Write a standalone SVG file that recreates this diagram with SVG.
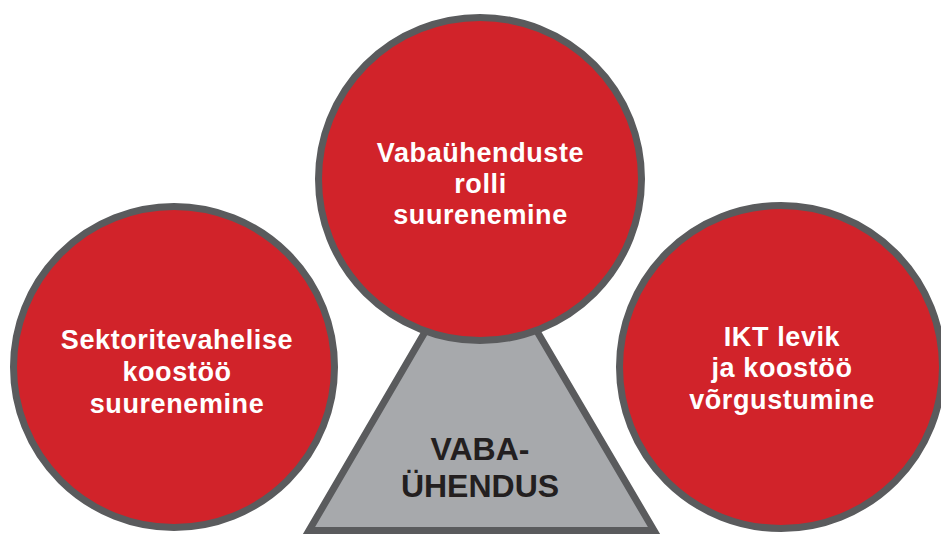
<svg xmlns="http://www.w3.org/2000/svg" width="941" height="534" viewBox="0 0 941 534">
<style>
.bg{fill:#ffffff}
.circ{fill:#D1232A;stroke:#5A5B5D;stroke-width:7}
.tri{fill:#A7A9AC;stroke:#5A5B5D;stroke-width:7;stroke-linejoin:miter}
.lbl{font-family:"Liberation Sans",Arial,sans-serif;font-weight:bold;font-size:27px;fill:#ffffff;text-anchor:middle;letter-spacing:0.6px}
.tlbl{font-family:"Liberation Sans",Arial,sans-serif;font-weight:bold;font-size:32px;fill:#231F20;text-anchor:middle}
</style>
<rect class="bg" x="0" y="0" width="941" height="534"/>
<g id="node-vabauhendus">
<polygon class="tri" points="481,236 309,530.5 654,530.5"/>
<text class="tlbl" x="480" y="460">VABA-</text>
<text class="tlbl" x="480" y="497">ÜHENDUS</text>
</g>
<g id="node-sektoritevahelise">
<circle class="circ" cx="174" cy="367" r="160.5"/>
<text class="lbl" x="177" y="349">Sektoritevahelise</text>
<text class="lbl" x="177" y="381">koostöö</text>
<text class="lbl" x="177" y="413">suurenemine</text>
</g>
<g id="node-vabauhenduste">
<circle class="circ" cx="480" cy="179" r="161.5"/>
<text class="lbl" x="480.5" y="162">Vabaühenduste</text>
<text class="lbl" x="480.5" y="193">rolli</text>
<text class="lbl" x="480.5" y="224">suurenemine</text>
</g>
<g id="node-ikt">
<circle class="circ" cx="781" cy="367" r="161.5"/>
<text class="lbl" x="782" y="346">IKT levik</text>
<text class="lbl" x="782" y="377">ja koostöö</text>
<text class="lbl" x="782" y="409">võrgustumine</text>
</g>
</svg>
